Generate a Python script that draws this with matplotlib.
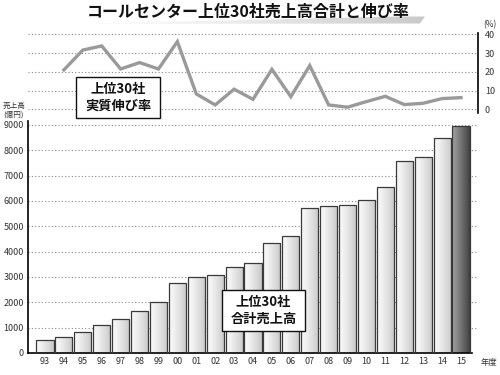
import numpy as np
import matplotlib
matplotlib.use('Agg')
import matplotlib.pyplot as plt
from matplotlib.patches import Rectangle, Polygon

plt.rcParams['font.family'] = ['Noto Sans CJK JP', 'DejaVu Sans']

years = ['93', '94', '95', '96', '97', '98', '99', '00', '01', '02', '03', '04',
         '05', '06', '07', '08', '09', '10', '11', '12', '13', '14', '15']
sales = [510, 620, 820, 1090, 1330, 1650, 2020, 2760, 2990, 3060, 3390, 3560,
         4330, 4630, 5710, 5790, 5840, 6050, 6540, 7560, 7740, 8490, 8960]
growth_years = years[1:]
growth = [21.0, 31.6, 33.8, 21.5, 24.9, 21.5, 36.1, 8.2, 2.3, 10.7, 5.3,
          21.3, 6.7, 23.3, 2.3, 1.1, 4.1, 6.9, 2.5, 3.2, 5.7, 6.2]

W, H = 500, 375
fig = plt.figure(figsize=(5, 3.75), dpi=100)

def px(x0, y0, x1, y1):
    # pixel box (top-left origin) -> figure fraction
    return [x0 / W, 1 - y1 / H, (x1 - x0) / W, (y1 - y0) / H]

x = np.arange(len(years))
step = 18.91
xl = -17 / step
xr = 22 + 17 / step

# lower: sales bars
ax = fig.add_axes(px(28, 121, 478, 353))
bars = ax.bar(x, sales, width=0.9, color='none', edgecolor='#3a3a3a', linewidth=0.9, zorder=3)
grad = np.linspace(0, 1, 50).reshape(1, -1)
for i, b in enumerate(bars):
    lo, hi = (0.04, 0.33) if i < len(bars) - 1 else (0.45, 0.8)
    im = ax.imshow(lo + grad * (hi - lo), cmap='Greys', vmin=0, vmax=1, aspect='auto',
                   extent=[b.get_x(), b.get_x() + b.get_width(), 0, b.get_height()],
                   zorder=2)
    im.set_clip_path(b)
ax.set_xlim(xl, xr)
ax.set_ylim(0, 9150)
ax.set_yticks(range(0, 9001, 1000))
ax.set_xticks(x)
ax.set_xticklabels(years)
ax.grid(axis='y', linestyle=(0, (1, 2)), color='#888888', linewidth=0.8, zorder=0)
for s in ['top', 'right']:
    ax.spines[s].set_visible(False)
ax.spines['left'].set_linewidth(1.2)
ax.spines['bottom'].set_linewidth(1.2)
ax.spines['bottom'].set_bounds(xl, 22 + 11 / step)
ax.tick_params(length=0, labelsize=6.5, colors='#333333', pad=3)

# upper: growth line
ax2 = fig.add_axes(px(28, 33, 478, 113))
ax2.set_xlim(xl, xr)
ax2.set_ylim(-2, 40.7)
ax2.plot(x[1:], growth, color='#9a9a9a', linewidth=2.4, solid_joinstyle='miter')
ax2.set_yticks([0, 10, 20, 30, 40])
ax2.yaxis.tick_right()
ax2.set_xticks([])
ax2.grid(axis='y', linestyle=(0, (1, 2)), color='#888888', linewidth=0.8)
for s in ['top', 'left', 'bottom']:
    ax2.spines[s].set_visible(False)
ax2.spines['right'].set_linewidth(1.2)
ax2.patch.set_visible(False)
ax2.tick_params(length=0, labelsize=6.5, colors='#333333', pad=5)

# overlay for title, labels, boxes
ov = fig.add_axes([0, 0, 1, 1])
ov.axis('off')
ov.patch.set_visible(False)

sw = Polygon([(68, 24), (400, 16.5), (425, 16.5), (420, 23.5)], closed=True,
             facecolor='none', edgecolor='none')
ov.add_patch(sw)
im = ov.imshow(np.linspace(0.0, 0.32, 80).reshape(1, -1), cmap='Greys', vmin=0, vmax=1,
               aspect='auto', extent=[68, 425, 24, 16.5], zorder=1)
im.set_clip_path(sw)
ov.set_xlim(0, W)
ov.set_ylim(H, 0)
ov.text(248, 12, 'コールセンター上位30社売上高合計と伸び率', ha='center', va='center',
        fontsize=11.5, fontweight='bold', color='#111111', zorder=2)

ov.text(490, 25, '(%)', ha='center', va='center', fontsize=6, color='#333333')
ov.text(14, 110, '売上高\n(億円)', ha='center', va='center', fontsize=5.5,
        color='#333333', linespacing=1.1)
ov.text(481, 362, '年度', ha='left', va='center', fontsize=6, color='#333333')

ov.add_patch(Rectangle((76, 77), 84, 41, facecolor='white', edgecolor='#111111',
                       linewidth=1.0, zorder=5))
ov.text(118, 97.5, '上位30社\n実質伸び率', ha='center', va='center', fontsize=9.5,
        fontweight='bold', color='#111111', linespacing=1.2, zorder=6)
ov.add_patch(Rectangle((222, 290), 83, 41, facecolor='white', edgecolor='#111111',
                       linewidth=1.0, zorder=5))
ov.text(263.5, 310.5, '上位30社\n合計売上高', ha='center', va='center', fontsize=9.5,
        fontweight='bold', color='#111111', linespacing=1.2, zorder=6)

fig.savefig('out.png', dpi=100)
